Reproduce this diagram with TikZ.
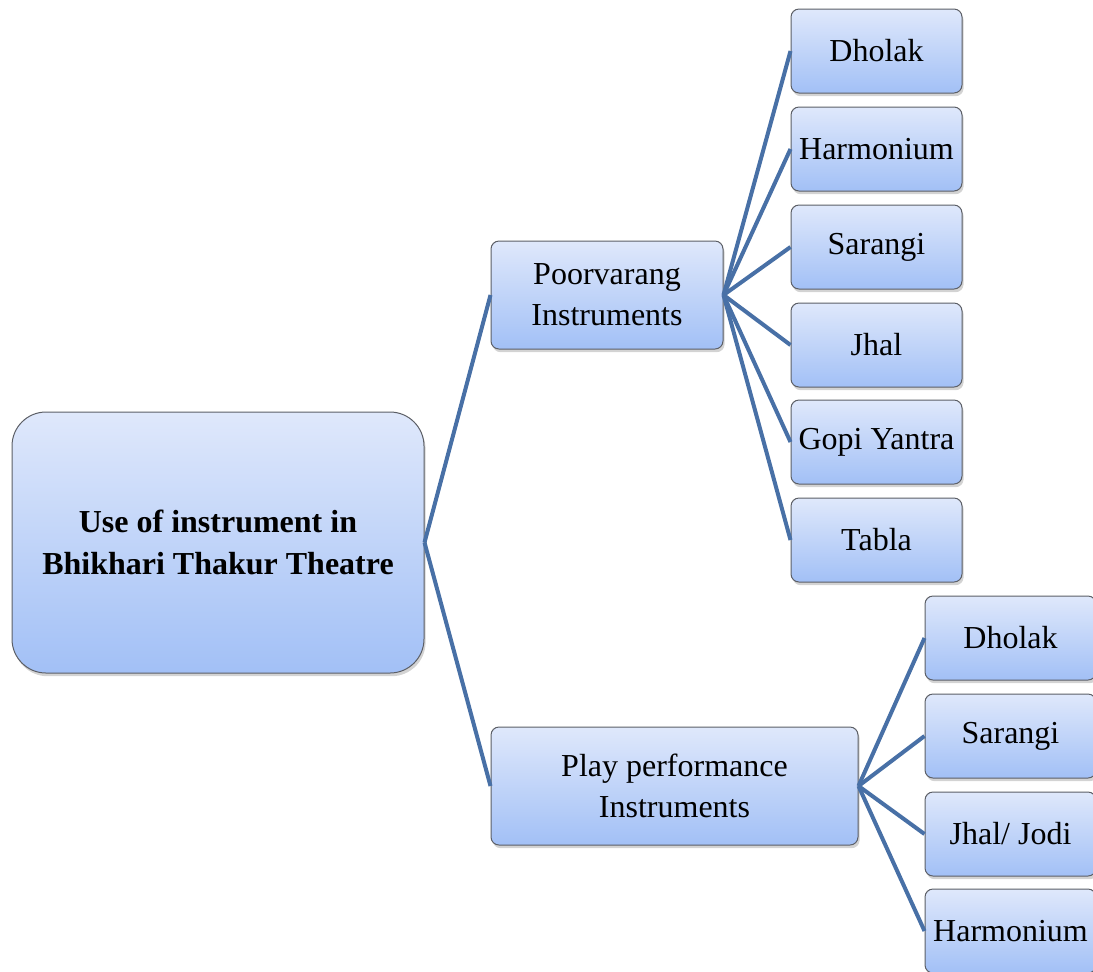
\documentclass[tikz,border=0pt]{standalone}
\usepackage{fontspec}
\setmainfont{Liberation Serif}
\usetikzlibrary{shadows}

\definecolor{boxtop}{HTML}{DFE8FB}
\definecolor{boxbot}{HTML}{A2C0F6}
\definecolor{boxline}{HTML}{5C5F66}
\definecolor{linkblue}{HTML}{4870A6}

\begin{document}
\begin{tikzpicture}[
    x=0.5pt, y=-0.5pt,
    box/.style={rectangle, rounded corners=4pt, draw=boxline, line width=0.5pt, top color=boxtop, bottom color=boxbot, text centered, align=center, inner sep=1pt, font=\fontsize{16}{20.5}\selectfont, drop shadow={shadow xshift=0.8pt, shadow yshift=-1.6pt, opacity=0.35}},
    leaf/.style={box, minimum width=85.5pt, minimum height=42pt},
    link/.style={line width=2pt, draw=linkblue}
]
\useasboundingbox (0,0) rectangle (1093,971);

\node[box, rounded corners=17pt, minimum width=206pt, minimum height=130.5pt, font=\fontsize{16}{21}\selectfont\bfseries] (root) at (218,542.5) {Use of instrument in\\Bhikhari Thakur Theatre};

\node[box, minimum width=116pt, minimum height=54pt] (poorva) at (607,295) {Poorvarang\\Instruments};
\node[box, minimum width=183.5pt, minimum height=59pt] (play) at (674.5,786) {Play performance\\Instruments};

% poorvarang instruments
\node[leaf] (pdholak) at (876.5,51) {Dholak};
\node[leaf] (pharmonium) at (876.5,149) {Harmonium};
\node[leaf] (psarangi) at (876.5,247) {Sarangi};
\node[leaf] (pjhal) at (876.5,345) {Jhal};
\node[leaf] (pgopi) at (876.5,442) {Gopi Yantra};
\node[leaf] (ptabla) at (876.5,540) {Tabla};

% play performance instruments
\node[leaf] (qdholak) at (1010.5,638) {Dholak};
\node[leaf] (qsarangi) at (1010.5,736) {Sarangi};
\node[leaf] (qjhal) at (1010.5,834) {Jhal/ Jodi};
\node[leaf] (qharmonium) at (1010.5,931) {Harmonium};

\draw[link] (root.east) -- (poorva.west);
\draw[link] (root.east) -- (play.west);

\draw[link] (poorva.east) -- (pdholak.west);
\draw[link] (poorva.east) -- (pharmonium.west);
\draw[link] (poorva.east) -- (psarangi.west);
\draw[link] (poorva.east) -- (pjhal.west);
\draw[link] (poorva.east) -- (pgopi.west);
\draw[link] (poorva.east) -- (ptabla.west);

\draw[link] (play.east) -- (qdholak.west);
\draw[link] (play.east) -- (qsarangi.west);
\draw[link] (play.east) -- (qjhal.west);
\draw[link] (play.east) -- (qharmonium.west);

\end{tikzpicture}
\end{document}
